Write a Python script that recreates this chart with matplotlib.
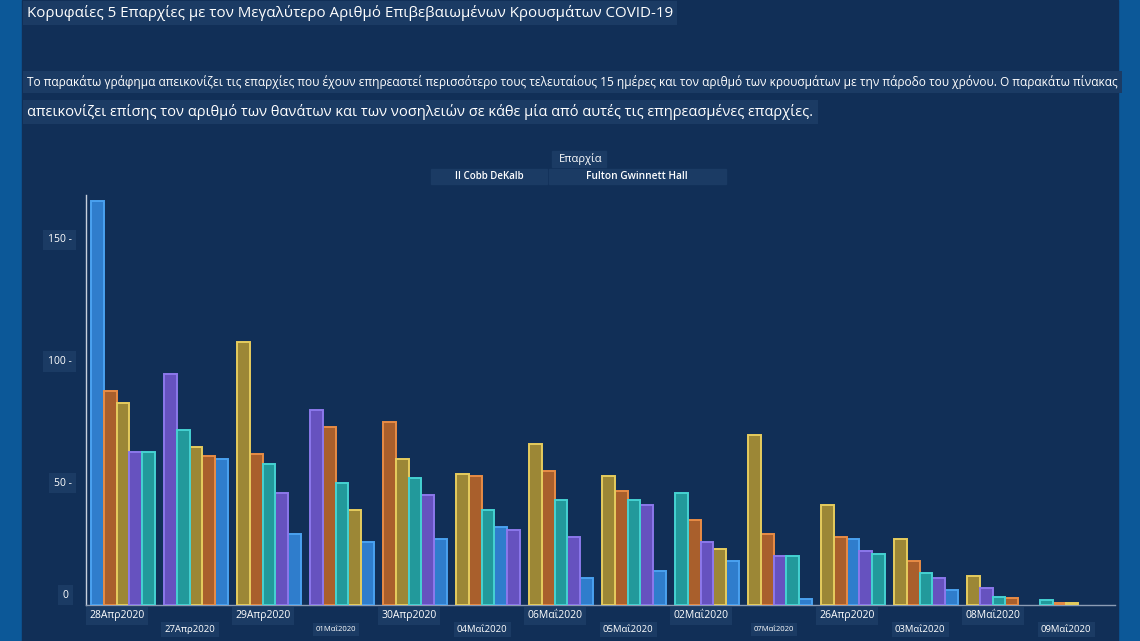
import matplotlib
matplotlib.use('Agg')
import matplotlib.pyplot as plt
from matplotlib.patches import Rectangle

plt.rcParams['font.family'] = ['Open Sans', 'Noto Sans', 'DejaVu Sans']

dates = ['28Απρ2020', '27Απρ2020', '29Απρ2020', '01Μαΐ2020', '30Απρ2020',
         '04Μαΐ2020', '06Μαΐ2020', '05Μαΐ2020', '02Μαΐ2020', '07Μαΐ2020',
         '26Απρ2020', '03Μαΐ2020', '08Μαΐ2020', '09Μαΐ2020']

# cases per county for each date
fulton   = [166, 60, 29, 26, 27, 32, 11, 14, 18, 2.5, 27, 6, 0, 0]
dekalb   = [88, 61, 62, 73, 75, 53, 55, 47, 35, 29, 28, 18, 3, 1]
gwinnett = [83, 65, 108, 39, 60, 54, 66, 53, 23, 70, 41, 27, 12, 1]
cobb     = [63, 95, 46, 80, 45, 31, 28, 41, 26, 20, 22, 11, 7, 0]
hall     = [63, 72, 58, 50, 52, 39, 43, 43, 46, 20, 21, 13, 3.2, 2]

series = [fulton, dekalb, gwinnett, cobb, hall]
fills = ['#2f7dcc', '#a95f2c', '#9c8736', '#6652bf', '#22999b']
edges = ['#4aa2f0', '#e88c45', '#e6cc5e', '#8c78ec', '#45d2d2']

yticks = [0, 50, 100, 150]
ytick_labels = ['0', '50 -', '100 -', '150 -']

panel = '#112f57'
boxc = '#1b3b64'

fig = plt.figure(figsize=(11.4, 6.41), dpi=100)
fig.patch.set_facecolor('#0c5898')


def figbox(x0, y0, x1, y1):
    # pixel box (top-left origin) drawn on the figure
    fig.patches.append(Rectangle((x0/1140, 1 - y1/641), (x1 - x0)/1140, (y1 - y0)/641,
                                 transform=fig.transFigure, color=boxc, zorder=-1))


fig.patches.append(Rectangle((22/1140, 0), 1096/1140, 1, transform=fig.transFigure,
                             color=panel, zorder=-2))

# title + description
fig.text(27/1140, 1 - 13/641, 'Κορυφαίες 5 Επαρχίες με τον Μεγαλύτερο Αριθμό Επιβεβαιωμένων Κρουσμάτων COVID-19',
         color='white', fontsize=10.9, va='center', ha='left',
         bbox=dict(boxstyle='square,pad=0.25', fc=boxc, ec='none'))
fig.text(27/1140, 1 - 82/641, 'Το παρακάτω γράφημα απεικονίζει τις επαρχίες που έχουν επηρεαστεί περισσότερο τους τελευταίους 15 ημέρες '
         'και τον αριθμό των κρουσμάτων με την πάροδο του χρόνου. Ο παρακάτω πίνακας',
         color='white', fontsize=8.6, va='center', ha='left',
         bbox=dict(boxstyle='square,pad=0.35', fc=boxc, ec='none'))
fig.text(27/1140, 1 - 112/641, 'απεικονίζει επίσης τον αριθμό των θανάτων και των νοσηλειών σε κάθε μία από αυτές τις επηρεασμένες επαρχίες.',
         color='white', fontsize=10.5, va='center', ha='left',
         bbox=dict(boxstyle='square,pad=0.3', fc=boxc, ec='none'))

# legend-like header
figbox(552, 151, 606, 167)
figbox(431, 169, 547, 184)
figbox(549, 169, 726, 184)
fig.text(581/1140, 1 - 159/641, 'Επαρχία', color='white', fontsize=8, ha='center', va='center')
fig.text(489/1140, 1 - 176.5/641, 'II Cobb DeKalb', color='white', fontsize=7, ha='center', va='center',
         fontweight='semibold')
fig.text(637/1140, 1 - 176.5/641, 'Fulton Gwinnett Hall', color='white', fontsize=7.3, ha='center', va='center',
         fontweight='semibold')

ax = fig.add_axes([86/1140, 36/641, 1029/1140, 410/641])
ax.set_facecolor('none')
ax.set_zorder(2)

w = 0.175
n = len(dates)
xs = [[0.0] * n for _ in series]
for i in range(n):
    vals = [s[i] for s in series]
    order = sorted(range(len(series)), key=lambda k: -vals[k])
    for rank, k in enumerate(order):
        xs[k][i] = i + (rank - 2) * w

for k, s in enumerate(series):
    lws = [1.4 if v > 0 else 0 for v in s]
    ax.bar(xs[k], s, width=w, color=fills[k], edgecolor=edges[k], linewidth=lws, zorder=3)

ax.set_xlim(-0.507, 13.59)
ax.set_ylim(0, 168.4)

for sp in ['top', 'right']:
    ax.spines[sp].set_visible(False)
ax.spines['left'].set_color('#c8d0dc')
ax.spines['left'].set_linewidth(1)
ax.spines['bottom'].set_color('#8c9cb4')
ax.spines['bottom'].set_linewidth(1)

ax.set_xticks([])
ax.set_yticks([])
ytf = ax.get_yaxis_transform()
for v, t in zip(yticks, ytick_labels):
    if v == 0:
        ax.text(-0.017, v + 4, t, transform=ytf, ha='right', va='center', color='white', fontsize=7.5,
                bbox=dict(boxstyle='square,pad=0.45', fc=boxc, ec='none'))
    else:
        ax.text(-0.014, v, t, transform=ytf, ha='right', va='center', color='white', fontsize=7.5,
                bbox=dict(boxstyle='square,pad=0.45', fc=boxc, ec='none'))

small = {'01Μαΐ2020': 5.5, '07Μαΐ2020': 5.5}
for i, d in enumerate(dates):
    yoff = -0.026 if i % 2 == 0 else -0.06
    fs = small.get(d, 7.5 if i % 2 == 0 else 6.8)
    ax.text(i - 0.08, yoff, d, transform=ax.get_xaxis_transform(), ha='center', va='center',
            color='white', fontsize=fs,
            bbox=dict(boxstyle='square,pad=0.35', fc=boxc, ec='none'))

fig.savefig('out.png', dpi=100, facecolor=fig.get_facecolor())
